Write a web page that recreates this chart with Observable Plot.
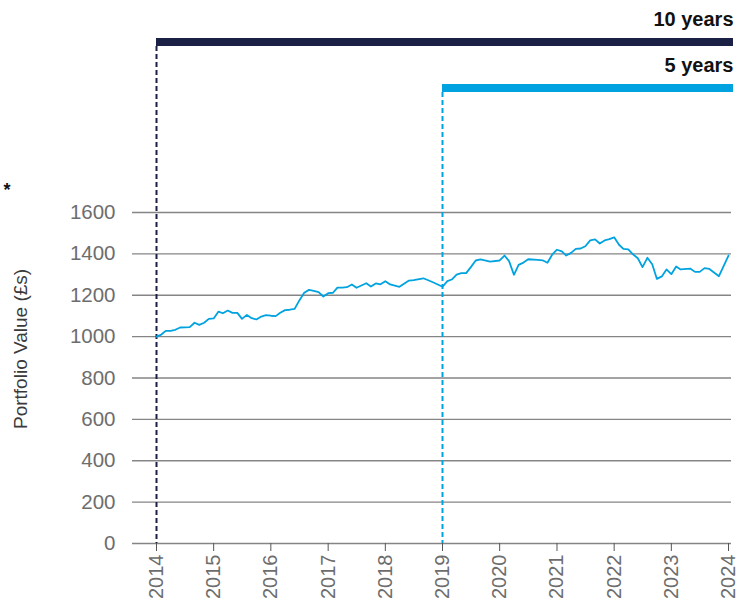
<!DOCTYPE html>
<html><head><meta charset="utf-8">
<script src="https://cdn.jsdelivr.net/npm/d3@7"></script>
<script src="https://cdn.jsdelivr.net/npm/@observablehq/plot@0.6"></script>
<style>html,body{margin:0;padding:0;background:#fff}#chart svg{display:block}</style>
</head><body><div id="chart"></div>
<script>
const dates = [
  "2014-01","2014-02","2014-03","2014-04","2014-05","2014-06","2014-08","2014-09","2014-10","2014-11","2014-12",
  "2015-01","2015-02","2015-03","2015-04","2015-05","2015-06","2015-07","2015-08","2015-09","2015-10","2015-11","2015-12",
  "2016-01","2016-02","2016-03","2016-04","2016-05","2016-06","2016-07","2016-08","2016-09","2016-10","2016-11","2016-12",
  "2017-01","2017-02","2017-03","2017-04","2017-05","2017-06","2017-07","2017-08","2017-09","2017-10","2017-11","2017-12",
  "2018-01","2018-02","2018-04","2018-06","2018-07","2018-09","2018-11",
  "2019-01","2019-02","2019-03","2019-04","2019-05","2019-06","2019-07","2019-08","2019-09","2019-11",
  "2020-01","2020-02","2020-03","2020-04","2020-05","2020-06","2020-07","2020-09","2020-10","2020-11","2020-12",
  "2021-01","2021-02","2021-03","2021-04","2021-05","2021-06","2021-07","2021-08","2021-09","2021-10","2021-11","2021-12",
  "2022-01","2022-02","2022-03","2022-04","2022-05","2022-06","2022-07","2022-08","2022-09","2022-10","2022-11","2022-12",
  "2023-01","2023-02","2023-03","2023-05","2023-06","2023-07","2023-08","2023-09","2023-11",
  "2024-01"
];
const values = [
  1000,1010,1028,1028,1033,1044,1046,1067,1057,1067,1086,
  1088,1121,1113,1126,1115,1115,1086,1105,1089,1083,1097,1104,
  1101,1099,1115,1128,1130,1134,1175,1212,1226,1221,1215,1194,
  1210,1212,1237,1237,1239,1252,1236,1247,1258,1242,1257,1253,
  1268,1252,1241,1271,1273,1282,1263,
  1241,1268,1276,1300,1307,1307,1336,1368,1373,1363,
  1368,1392,1365,1299,1347,1358,1374,1371,1369,1357,1396,
  1420,1412,1392,1405,1424,1426,1437,1465,1470,1450,1465,1471,
  1480,1444,1424,1422,1398,1379,1336,1381,1350,1279,1291,1325,
  1302,1339,1325,1329,1313,1313,1331,1327,1292,
  1392
];
const yTicks = [0, 200, 400, 600, 800, 1000, 1200, 1400, 1600];
const xTickYears = ["2014","2015","2016","2017","2018","2019","2020","2021","2022","2023","2024"];
const periodLabels = ["10 years", "5 years"];
const periodStarts = ["2014-01", "2019-01"];
const periodEnd = "2024-01";
const yLabel = "Portfolio Value (£s)";
const note = "*";

const parseM = d3.utcParse("%Y-%m");
const parseY = d3.utcParse("%Y");
const series = dates.map((d, i) => ({date: parseM(d), value: values[i]}));
const periods = periodLabels.map((label, i) => ({label, start: parseM(periodStarts[i]), end: parseM(periodEnd)}));
const xTicks = xTickYears.map(parseY);

// layout / style
const W = 749, H = 608, MT = 38, MB = 65, ML = 156, MR = 21;
const frameH = H - MT - MB;
const periodColors = ["#1b2145", "#00a3e0"];
const rowTop = [0, 46];
const barH = 8;
const lineColor = "#00a3e0";
const gridColor = "#858585";

const headerMarks = periods.flatMap((p, i) => [
  Plot.ruleX([p], {x: "start", stroke: periodColors[i], strokeWidth: 2, strokeDasharray: "5,3",
    insetTop: rowTop[i] + barH}),
  Plot.rect([p], {x1: "start", x2: "end", fill: periodColors[i],
    insetTop: rowTop[i], insetBottom: frameH - rowTop[i] - barH, insetRight: -5}),
  Plot.text([p], {x: "end", text: "label", frameAnchor: "top", textAnchor: "end", lineAnchor: "middle",
    dx: 5, dy: rowTop[i] - 19, fontSize: 20, fontWeight: "bold", fill: "#111"})
]);

const chart = Plot.plot({
  width: W, height: H,
  marginTop: MT, marginBottom: MB, marginLeft: ML, marginRight: MR,
  style: {fontFamily: "'Liberation Sans', Arial, Helvetica, sans-serif", color: "#6d6d6d", background: "#fff"},
  x: {type: "utc", domain: [parseM(dates[0]), parseM(periodEnd)]},
  y: {domain: [0, 1600], range: [H - MB, 212]},
  marks: [
    Plot.ruleY(yTicks, {stroke: gridColor, strokeWidth: 1.3, insetLeft: -24, insetRight: -3}),
    Plot.axisY({ticks: yTicks, tickFormat: d3.format("d"), tickSize: 0, tickPadding: 41, fontSize: 20.5, label: null}),
    Plot.axisX({ticks: xTicks, tickFormat: "%Y", tickRotate: -90, tickSize: 8, tickPadding: 3,
      fontSize: 20, label: null, stroke: "#555"}),
    ...headerMarks,
    Plot.lineY(series, {x: "date", y: "value", stroke: lineColor, strokeWidth: 1.8}),
    Plot.text([yLabel], {frameAnchor: "left", rotate: -90, dx: -136, dy: 138, fontSize: 19, fill: "#3a3a3a"}),
    Plot.text([note], {frameAnchor: "top-left", dx: -153, dy: 145, fontSize: 18, fontWeight: "bold", fill: "#111"})
  ]
});
document.getElementById("chart").append(chart);
</script>
</body></html>
